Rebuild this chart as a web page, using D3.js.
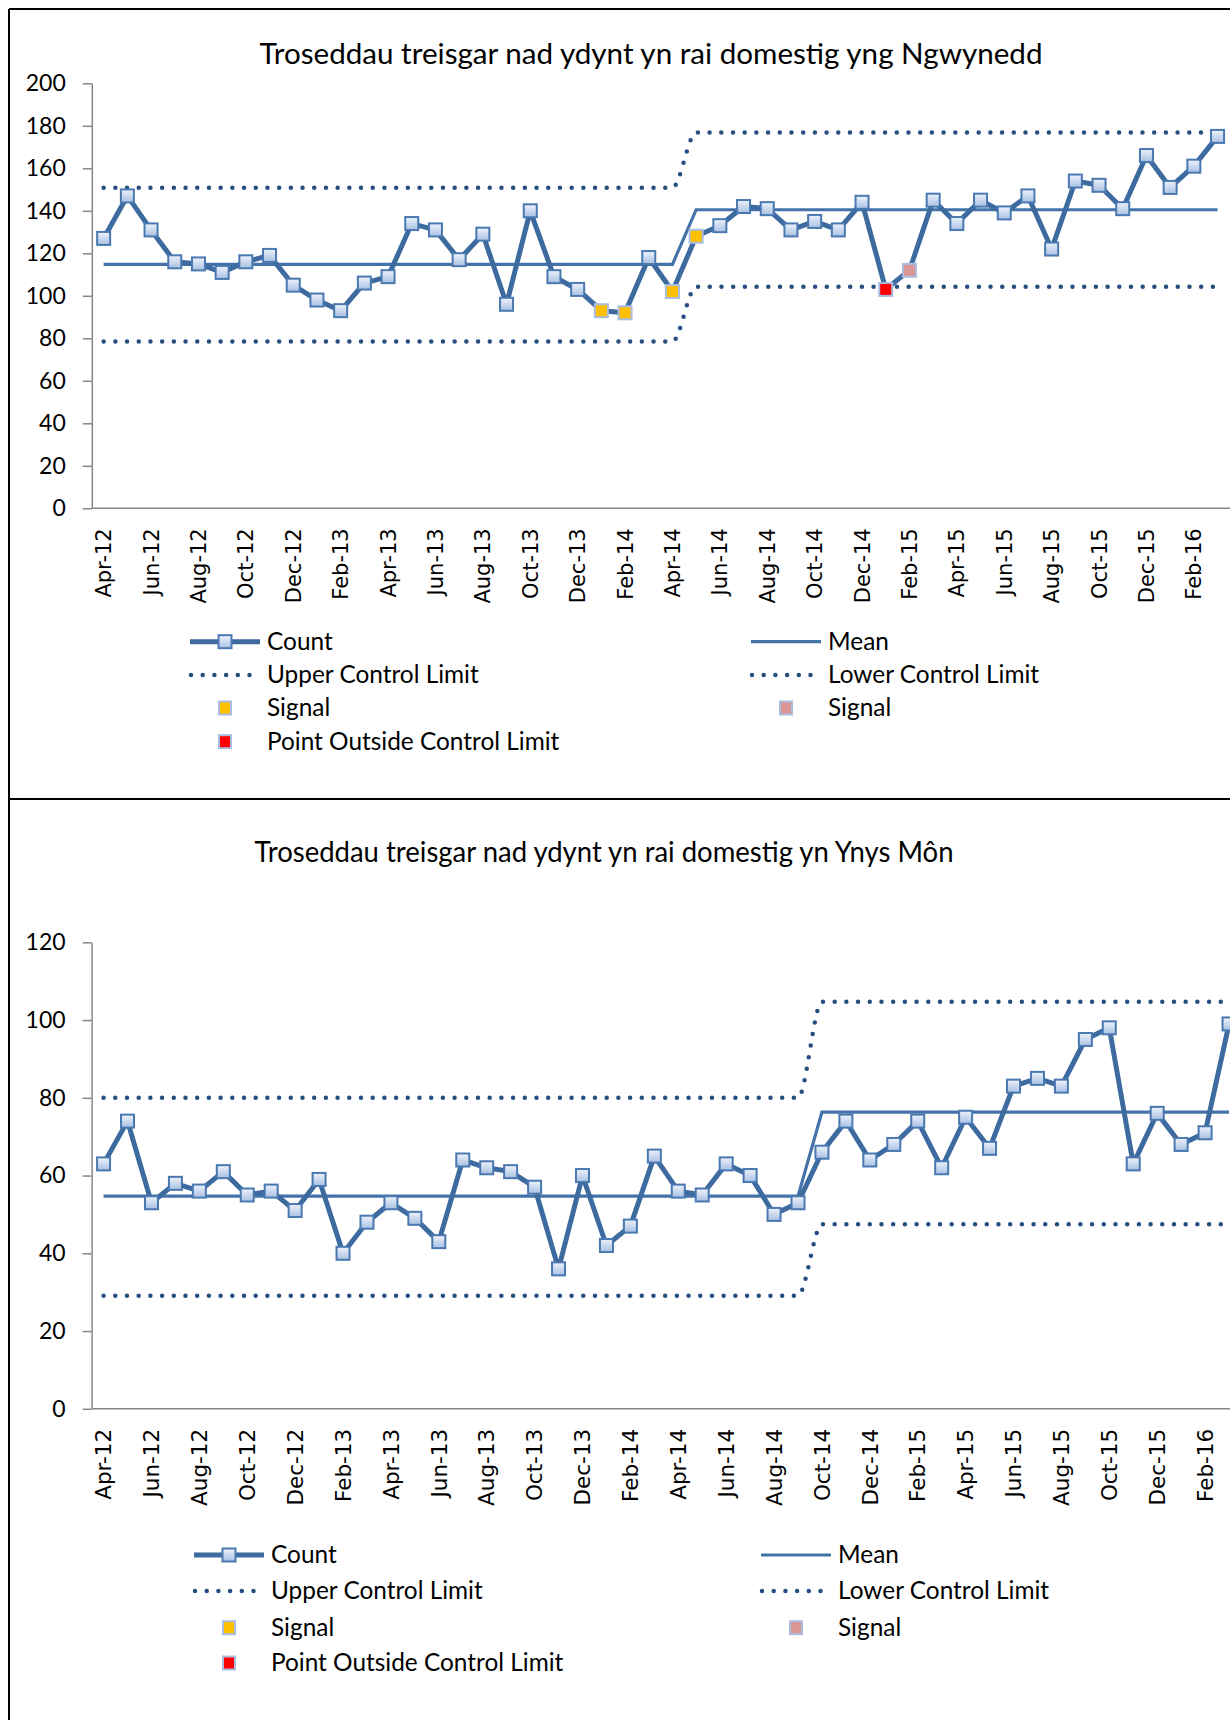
<!DOCTYPE html>
<html>
<head>
<meta charset="utf-8">
<script src="https://cdn.jsdelivr.net/npm/d3@7"></script>
<style>
  body { margin: 0; background: #fff; }
  svg { display: block; }
</style>
</head>
<body>
<svg id="chart" width="1230" height="1720"></svg>
<script>
// months on the category axis (Apr-12 .. Mar-16)
var months = ["Apr-12","May-12","Jun-12","Jul-12","Aug-12","Sep-12","Oct-12","Nov-12","Dec-12","Jan-13","Feb-13","Mar-13",
              "Apr-13","May-13","Jun-13","Jul-13","Aug-13","Sep-13","Oct-13","Nov-13","Dec-13","Jan-14","Feb-14","Mar-14",
              "Apr-14","May-14","Jun-14","Jul-14","Aug-14","Sep-14","Oct-14","Nov-14","Dec-14","Jan-15","Feb-15","Mar-15",
              "Apr-15","May-15","Jun-15","Jul-15","Aug-15","Sep-15","Oct-15","Nov-15","Dec-15","Jan-16","Feb-16","Mar-16"];
var tickLabels = ["Apr-12","Jun-12","Aug-12","Oct-12","Dec-12","Feb-13","Apr-13","Jun-13","Aug-13","Oct-13","Dec-13","Feb-14",
                  "Apr-14","Jun-14","Aug-14","Oct-14","Dec-14","Feb-15","Apr-15","Jun-15","Aug-15","Oct-15","Dec-15","Feb-16"];

// Gwynedd
var gwyCount = [127,147,131,116,115,111,116,119,105,98,93,106,109,134,131,117,129,96,140,109,103,93,92,118,
                102,128,133,142,141,131,135,131,144,103,112,145,134,145,139,147,122,154,152,141,166,151,161,175];
var gwyMean = [114.8,114.8,114.8,114.8,114.8,114.8,114.8,114.8,114.8,114.8,114.8,114.8,114.8,114.8,114.8,114.8,114.8,114.8,114.8,114.8,114.8,114.8,114.8,114.8,
               114.8,140.5,140.5,140.5,140.5,140.5,140.5,140.5,140.5,140.5,140.5,140.5,140.5,140.5,140.5,140.5,140.5,140.5,140.5,140.5,140.5,140.5,140.5,140.5];
var gwyUcl = [150.9,150.9,150.9,150.9,150.9,150.9,150.9,150.9,150.9,150.9,150.9,150.9,150.9,150.9,150.9,150.9,150.9,150.9,150.9,150.9,150.9,150.9,150.9,150.9,
              150.9,176.8,176.8,176.8,176.8,176.8,176.8,176.8,176.8,176.8,176.8,176.8,176.8,176.8,176.8,176.8,176.8,176.8,176.8,176.8,176.8,176.8,176.8,176.8];
var gwyLcl = [78.5,78.5,78.5,78.5,78.5,78.5,78.5,78.5,78.5,78.5,78.5,78.5,78.5,78.5,78.5,78.5,78.5,78.5,78.5,78.5,78.5,78.5,78.5,78.5,
              78.5,104.3,104.3,104.3,104.3,104.3,104.3,104.3,104.3,104.3,104.3,104.3,104.3,104.3,104.3,104.3,104.3,104.3,104.3,104.3,104.3,104.3,104.3,104.3];
var gwySignal = ["Jan-14","Feb-14","Apr-14","May-14"];
var gwySignalLow = ["Feb-15"];
var gwyOutside = ["Jan-15"];

// Ynys Mon
var monCount = [63,74,53,58,56,61,55,56,51,59,40,48,53,49,43,64,62,61,57,36,60,42,47,65,
                56,55,63,60,50,53,66,74,64,68,74,62,75,67,83,85,83,95,98,63,76,68,71,99];
var monMean = [54.7,54.7,54.7,54.7,54.7,54.7,54.7,54.7,54.7,54.7,54.7,54.7,54.7,54.7,54.7,54.7,54.7,54.7,54.7,54.7,54.7,54.7,54.7,54.7,
               54.7,54.7,54.7,54.7,54.7,54.7,76.3,76.3,76.3,76.3,76.3,76.3,76.3,76.3,76.3,76.3,76.3,76.3,76.3,76.3,76.3,76.3,76.3,76.3];
var monUcl = [80,80,80,80,80,80,80,80,80,80,80,80,80,80,80,80,80,80,80,80,80,80,80,80,
              80,80,80,80,80,80,104.7,104.7,104.7,104.7,104.7,104.7,104.7,104.7,104.7,104.7,104.7,104.7,104.7,104.7,104.7,104.7,104.7,104.7];
var monLcl = [29.1,29.1,29.1,29.1,29.1,29.1,29.1,29.1,29.1,29.1,29.1,29.1,29.1,29.1,29.1,29.1,29.1,29.1,29.1,29.1,29.1,29.1,29.1,29.1,
              29.1,29.1,29.1,29.1,29.1,29.1,47.5,47.5,47.5,47.5,47.5,47.5,47.5,47.5,47.5,47.5,47.5,47.5,47.5,47.5,47.5,47.5,47.5,47.5];
var monSignal = [];
var monSignalLow = [];
var monOutside = [];

var gwyTicks = [0,20,40,60,80,100,120,140,160,180,200];
var monTicks = [0,20,40,60,80,100,120];

var legendNames = ["Count","Mean","Upper Control Limit","Lower Control Limit","Signal","Signal","Point Outside Control Limit"];

var lineBlue = "#3D6A9F", meanBlue = "#4473AA", dotBlue = "#254F80", axisGrey = "#868686";
var textFont = "Lato, 'Open Sans', sans-serif";

var svg = d3.select("#chart");
var defs = svg.append("defs");
var grad = defs.append("linearGradient").attr("id", "markerFill")
    .attr("x1", 0).attr("y1", 0).attr("x2", 0).attr("y2", 1);
grad.append("stop").attr("offset", "0%").attr("stop-color", "#EEF3FB");
grad.append("stop").attr("offset", "100%").attr("stop-color", "#A8C0E3");

// frame round the two panels
svg.append("g").attr("stroke", "#000").attr("stroke-width", 2)
  .selectAll("line")
  .data([[9, 9, 1230, 9], [9, 9, 9, 1720], [9, 799, 1230, 799]])
  .enter().append("line")
  .attr("x1", function(d){ return d[0]; }).attr("y1", function(d){ return d[1]; })
  .attr("x2", function(d){ return d[2]; }).attr("y2", function(d){ return d[3]; });

function drawPanel(p) {
  var g = svg.append("g");
  var x = d3.scaleBand().domain(months).range(p.xRange);
  var cx = function(m){ return x(m) + x.bandwidth() / 2; };
  var y = d3.scaleLinear().domain(p.yDomain).range(p.yRange);

  // title
  g.append("text")
    .attr("x", p.titleX).attr("y", p.titleY)
    .attr("text-anchor", "middle")
    .attr("textLength", p.titleW).attr("lengthAdjust", "spacingAndGlyphs")
    .style("font-family", textFont).style("font-size", "28.5px")
    .text(p.title);

  // y axis
  var ya = g.append("g").attr("transform", "translate(" + p.xRange[0] + ",0)")
    .call(d3.axisLeft(y).tickValues(p.ticks).tickSize(9).tickSizeOuter(0).tickPadding(17));
  ya.selectAll("path,line").attr("stroke", axisGrey).attr("stroke-width", 1.5);
  ya.selectAll("text").style("font-family", textFont).style("font-size", "23px").attr("fill", "#000");

  // x axis
  var xa = g.append("g").attr("transform", "translate(0," + y(0) + ")")
    .call(d3.axisBottom(x).tickValues(tickLabels).tickSize(0));
  xa.select(".domain").remove();
  xa.append("line").attr("x1", p.xRange[0]).attr("x2", 1230)
    .attr("stroke", axisGrey).attr("stroke-width", 1.5);
  xa.selectAll(".tick text")
    .attr("transform", "rotate(-90)")
    .attr("x", -20).attr("y", 0).attr("dy", "0.36em")
    .style("text-anchor", "end")
    .style("font-family", "'DejaVu Sans', sans-serif").style("font-size", p.xFont)
    .attr("fill", "#000");

  var line = d3.line().x(function(d, i){ return cx(months[i]); }).y(function(d){ return y(d); });
  var smooth = d3.line().curve(d3.curveMonotoneX)
    .x(function(d, i){ return cx(months[i]); }).y(function(d){ return y(d); });

  [p.ucl, p.lcl].forEach(function(s) {
    g.append("path").attr("d", smooth(s)).attr("fill", "none")
      .attr("stroke", dotBlue).attr("stroke-width", 4.5)
      .attr("stroke-linecap", "round").attr("stroke-dasharray", "0 11.7");
  });
  g.append("path").attr("d", line(p.mean)).attr("fill", "none")
    .attr("stroke", meanBlue).attr("stroke-width", 3.2);
  g.append("path").attr("d", line(p.count)).attr("fill", "none")
    .attr("stroke", lineBlue).attr("stroke-width", 5).attr("stroke-linejoin", "round");

  var ms = 13;
  function flagged(m) {
    return p.outside.indexOf(m) >= 0 || p.signal.indexOf(m) >= 0 || p.signalLow.indexOf(m) >= 0;
  }
  g.selectAll(".pt").data(p.count).enter().append("rect")
    .attr("x", function(d, i){ return cx(months[i]) - ms / 2; })
    .attr("y", function(d){ return y(d) - ms / 2; })
    .attr("width", ms).attr("height", ms)
    .attr("fill", function(d, i){
      var m = months[i];
      if (p.outside.indexOf(m) >= 0) return "#FF0000";
      if (p.signal.indexOf(m) >= 0) return "#FFC000";
      if (p.signalLow.indexOf(m) >= 0) return "#D99694";
      return "url(#markerFill)";
    })
    .attr("stroke", function(d, i){ return flagged(months[i]) ? "#A9BDE0" : "#4A78B0"; })
    .attr("stroke-width", 2);

  // legend
  var L = p.legend, lg = g.append("g");
  var rows = L.rows, c1 = L.left, c2 = L.right;
  function label(xp, yp, t) {
    lg.append("text").attr("x", xp + 77).attr("y", yp).attr("dy", "0.34em")
      .style("font-family", textFont).style("font-size", "24.4px").text(t);
  }
  lg.append("line").attr("x1", c1).attr("x2", c1 + 70).attr("y1", rows[0]).attr("y2", rows[0])
    .attr("stroke", lineBlue).attr("stroke-width", 5);
  lg.append("rect").attr("x", c1 + 35 - 6.5).attr("y", rows[0] - 6.5).attr("width", 13).attr("height", 13)
    .attr("fill", "url(#markerFill)").attr("stroke", "#4A78B0").attr("stroke-width", 2);
  label(c1, rows[0], legendNames[0]);
  lg.append("line").attr("x1", c2).attr("x2", c2 + 70).attr("y1", rows[0]).attr("y2", rows[0])
    .attr("stroke", meanBlue).attr("stroke-width", 3.2);
  label(c2, rows[0], legendNames[1]);
  [c1, c2].forEach(function(c, k) {
    lg.append("line").attr("x1", c + 1).attr("x2", c + 60).attr("y1", rows[1]).attr("y2", rows[1])
      .attr("stroke", dotBlue).attr("stroke-width", 4.5)
      .attr("stroke-linecap", "round").attr("stroke-dasharray", "0 11.7");
    label(c, rows[1], legendNames[2 + k]);
  });
  [[c1, rows[2], "#FFC000", 4], [c2, rows[2], "#D99694", 5], [c1, rows[3], "#FF0000", 6]].forEach(function(s) {
    lg.append("rect").attr("x", s[0] + 35 - 6).attr("y", s[1] - 6.5).attr("width", 12).attr("height", 13)
      .attr("fill", s[2]).attr("stroke", "#A9BDE0").attr("stroke-width", 2);
    label(s[0], s[1], legendNames[s[3]]);
  });
}

drawPanel({
  title: "Troseddau treisgar nad ydynt yn rai domestig yng Ngwynedd",
  titleX: 651, titleY: 64, titleW: 783,
  xRange: [91.8, 1229.4], yDomain: [0, 200], yRange: [508.3, 83.3], ticks: gwyTicks,
  xFont: "21px",
  count: gwyCount, mean: gwyMean, ucl: gwyUcl, lcl: gwyLcl,
  signal: gwySignal, signalLow: gwySignalLow, outside: gwyOutside,
  legend: { rows: [641.7, 675, 708, 741.7], left: 190, right: 751 }
});

drawPanel({
  title: "Troseddau treisgar nad ydynt yn rai domestig yn Ynys Môn",
  titleX: 604, titleY: 862, titleW: 699,
  xRange: [91.6, 1241], yDomain: [0, 120], yRange: [1408.8, 942.3], ticks: monTicks,
  xFont: "21.5px",
  count: monCount, mean: monMean, ucl: monUcl, lcl: monLcl,
  signal: monSignal, signalLow: monSignalLow, outside: monOutside,
  legend: { rows: [1555, 1591, 1627.7, 1663], left: 194, right: 761 }
});
</script>
</body>
</html>
